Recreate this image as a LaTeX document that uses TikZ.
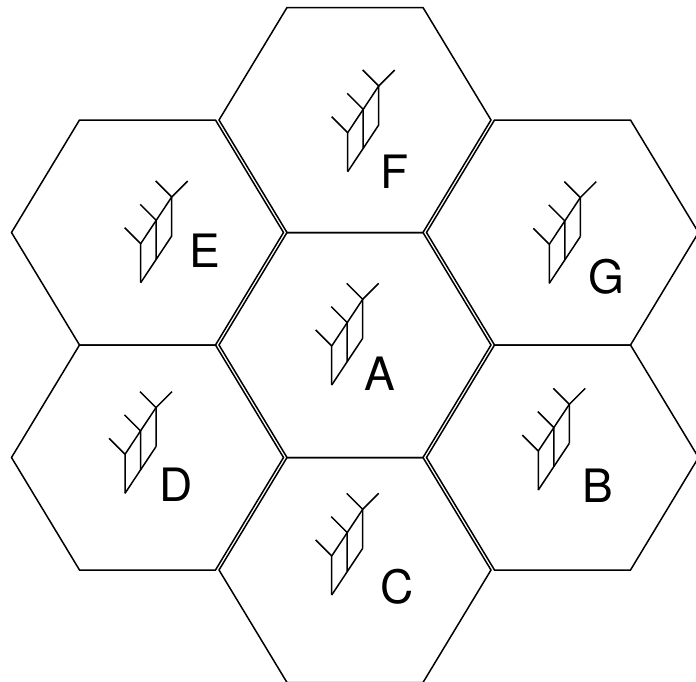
\documentclass[tikz,border=0pt]{standalone}
\usepackage{fontspec}
\setmainfont{TeX Gyre Heros}
\usepackage{tikz}

\tikzset{
  cell/.pic={
    \draw (-136,0) -- (-68,-112.5) -- (68,-112.5) -- (136,0)
          -- (68,112.5) -- (-68,112.5) -- cycle;
  },
  antenna/.pic={
    \draw (0,0) -- (0,-39) -- (-16,-55);
    \draw (15.5,-23.3) -- (15.5,-62.4) -- (-0.5,-78.4);
    \draw (31,-46.7) -- (31,-85.7) -- (15,-101.7);
    \draw (31,-85.7) -- (47,-101.7);
    \draw (0,0) -- (31,-46.7);
    \draw (0,-39) -- (31,-85.7);
  },
}

\begin{document}
\begin{tikzpicture}[x=1pt,y=-1pt,line width=1.5pt]
\tikzstyle{letter}=[font=\fontsize{46}{50}\selectfont,inner sep=0pt]
\useasboundingbox (0,0) rectangle (696,681);

% cells
\foreach \cx/\cy in {355/345, 355/120, 355/570, 147.5/232.5, 147.5/457.5, 562.5/232.5, 562.5/457.5}
  \pic at (\cx,\cy) {cell};

% antennas
\pic (antA) at (331.7,385)   {antenna};
\pic (antF) at (347.7,171.7) {antenna};
\pic (antE) at (140.7,282.7) {antenna};
\pic (antD) at (125,493.3)   {antenna};
\pic (antC) at (331.7,595)   {antenna};
\pic (antG) at (549.3,283.3) {antenna};
\pic (antB) at (538.3,490)   {antenna};

% cell names
\node[letter] (A) at (380,373.5) {A};
\node[letter] (F) at (395,172)   {F};
\node[letter] (E) at (204.5,251) {E};
\node[letter] (D) at (176,484.5) {D};
\node[letter] (C) at (397,586.7) {C};
\node[letter] (G) at (606,276.5) {G};
\node[letter] (B) at (598,486)   {B};
\end{tikzpicture}
\end{document}
